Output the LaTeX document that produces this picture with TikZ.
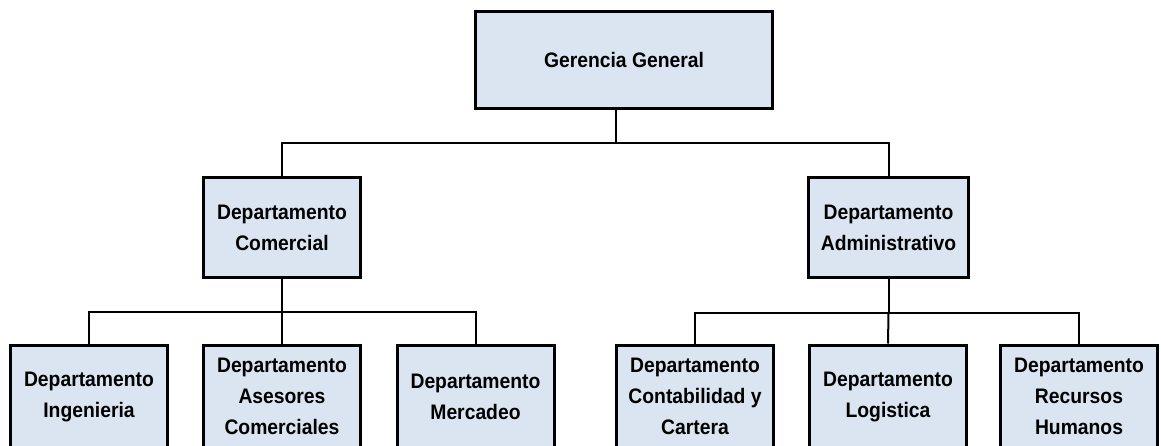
\documentclass[tikz,border=0pt]{standalone}
\usepackage{fontspec}
\setmainfont{Liberation Sans}[FakeStretch=0.92]
\definecolor{boxfill}{HTML}{DBE5F1}
\begin{document}
\begin{tikzpicture}[x=1pt,y=-1pt,
  org/.style={draw=black, line width=3pt, fill=boxfill, align=center, inner sep=0pt,
    font=\fontsize{21}{31}\selectfont\bfseries},
  conn/.style={draw=black, line width=2pt}]
\clip (0,0) rectangle (1161,445);
\useasboundingbox (0,0) rectangle (1161,445);
% top
\node[org, minimum width=297pt, minimum height=97pt] (gg) at (624,60) {Gerencia General};
% level 2
\node[org, minimum width=157pt, minimum height=100pt] (com) at (282,227.5) {Departamento\\Comercial};
\node[org, minimum width=160pt, minimum height=100pt] (adm) at (888.5,227.5) {Departamento\\Administrativo};
% level 3
\node[org, minimum width=157pt, minimum height=103pt] (ing) at (89,396.5) {Departamento\\Ingenieria};
\node[org, minimum width=157pt, minimum height=103pt] (ase) at (282,396.5) {Departamento\\Asesores\\Comerciales};
\node[org, minimum width=157pt, minimum height=103pt] (mer) at (475.5,396.5) {Departamento\\Mercadeo};
\node[org, minimum width=157pt, minimum height=103pt] (con) at (695,396.5) {Departamento\\Contabilidad y\\Cartera};
\node[org, minimum width=157pt, minimum height=103pt] (log) at (888,396.5) {Departamento\\Logistica};
\node[org, minimum width=157pt, minimum height=103pt] (rec) at (1079,396.5) {Departamento\\Recursos\\Humanos};
% connectors
\draw[conn] ([xshift=-8pt]gg.south) -- ++(0,33) coordinate (j1);
\draw[conn] (com.north) |- (j1) -| (adm.north);
\draw[conn] (com.south) -- ++(0,33) coordinate (j2);
\draw[conn] (ing.north) |- (j2) -| (mer.north);
\draw[conn] (j2) -- (ase.north);
\draw[conn] (adm.south) -- ++(0,34) coordinate (j3);
\draw[conn] (con.north) |- (j3) -| (rec.north);
\draw[conn] (j3) -- (log.north);
\end{tikzpicture}
\end{document}
